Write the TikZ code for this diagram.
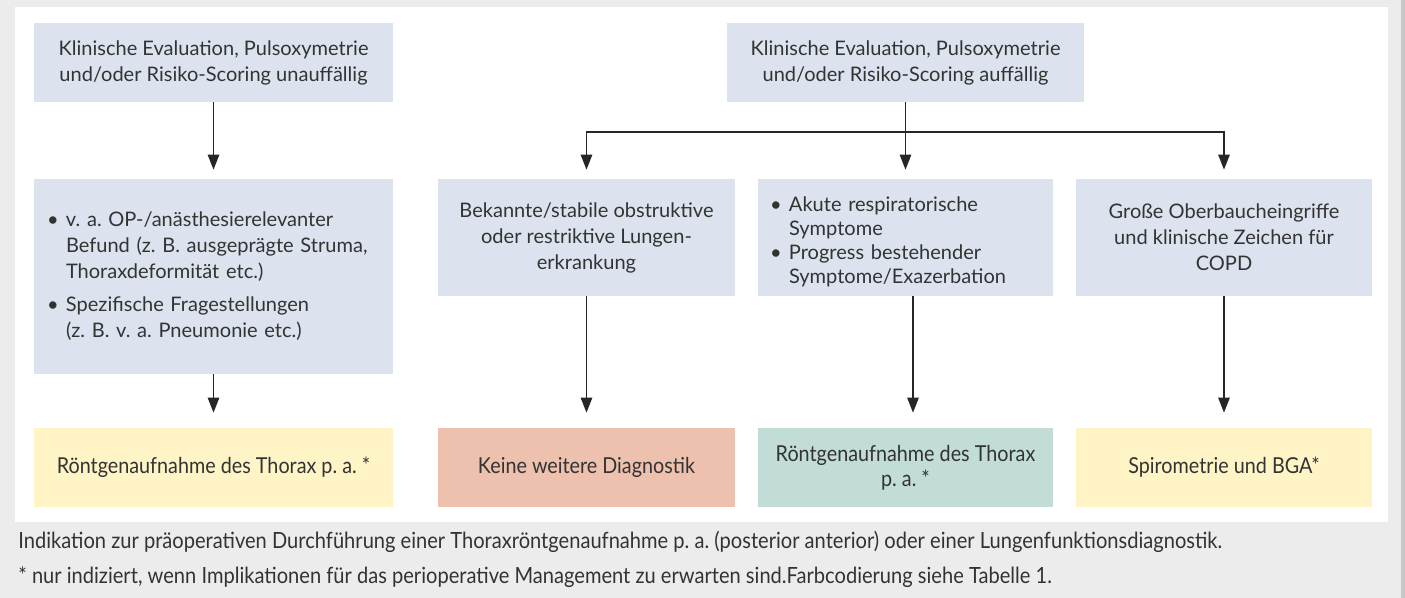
\documentclass[tikz,border=0pt]{standalone}
\usepackage{fontspec}
\setmainfont{Lato}
\newfontfamily\narrowfont[FakeStretch=0.9]{Lato}
\usetikzlibrary{arrows.meta}

\definecolor{boxblue}{HTML}{DCE3EE}
\definecolor{boxyellow}{HTML}{FEF4C6}
\definecolor{boxsalmon}{HTML}{EDC1AD}
\definecolor{boxteal}{HTML}{C2DCD7}
\definecolor{pagegrey}{HTML}{ECECEC}
\definecolor{edgegrey}{HTML}{C8C8C8}
\definecolor{inkgrey}{HTML}{333333}

\tikzset{
  stage/.style={fill=boxblue, text=inkgrey, inner sep=0pt, align=center,
    font=\fontsize{11.4}{14.8}\selectfont\frenchspacing},
  liststage/.style={stage, align=left, inner xsep=#1},
  result/.style={stage, minimum height=1.58cm,
    font=\narrowfont\fontsize{12.5}{14}\selectfont\frenchspacing},
  flowarrow/.style={-{Triangle[length=3mm,width=2.3mm]}, line width=0.7pt, draw=black!85},
  caption/.style={anchor=west, inner sep=0pt, text=inkgrey,
    font=\narrowfont\fontsize{12.7}{14.2}\selectfont\frenchspacing}
}

\newcommand{\bulletrow}[1]{\makebox[0.38cm][l]{\textbullet}&#1}

\begin{document}
\begin{tikzpicture}

% page and panel
\fill[pagegrey] (0,0) rectangle (28.1,-11.96);
\fill[edgegrey] (28.02,0) rectangle (28.1,-11.96);
\fill[white] (0.3,-0.14) rectangle (27.76,-10.44);
\useasboundingbox (0,0) rectangle (28.1,-11.96);

% top row
\node[stage, minimum width=7.18cm, minimum height=1.58cm] (unauff) at (4.27,-1.25)
  {Klinische Evaluation, Pulsoxymetrie\\und/oder Risiko-Scoring unauffällig};
\node[stage, minimum width=7.14cm, minimum height=1.58cm] (auff) at (18.11,-1.25)
  {Klinische Evaluation, Pulsoxymetrie\\und/oder Risiko-Scoring auffällig};

% middle row
\node[liststage=0.26cm, text width=6.66cm, minimum height=3.9cm] (befund) at (4.27,-5.53)
  {\begin{tabular}{@{}l@{}l@{}}
   \bulletrow{v. a. OP-/anästhesierelevanter}\\
   &Befund (z. B. ausgeprägte Struma,\\
   &Thoraxdeformität etc.)\\[4pt]
   \bulletrow{Spezifische Fragestellungen}\\
   &(z. B. v. a. Pneumonie etc.)
   \end{tabular}};
\node[stage, minimum width=5.94cm, minimum height=2.34cm] (bekannt) at (11.73,-4.75)
  {Bekannte/stabile obstruktive\\oder restriktive Lungen-\\erkrankung};
\node[liststage=0.24cm, text width=5.42cm, minimum height=2.34cm] (akut) at (18.11,-4.75)
  {\raisebox{-0.1cm}[\height][\depth]{\renewcommand{\arraystretch}{0.93}%
   \begin{tabular}{@{}l@{}l@{}}
   \bulletrow{Akute respiratorische}\\
   &Symptome\\
   \bulletrow{Progress bestehender}\\
   &Symptome/Exazerbation
   \end{tabular}}};
\node[stage, minimum width=5.92cm, minimum height=2.34cm] (oberbauch) at (24.48,-4.75)
  {Große Oberbaucheingriffe\\und klinische Zeichen für\\COPD};

% bottom row
\node[result, fill=boxyellow, minimum width=7.18cm] (rxlinks) at (4.27,-9.35)
  {Röntgenaufnahme des Thorax p. a. *};
\node[result, fill=boxsalmon, minimum width=5.94cm] (keine) at (11.73,-9.35)
  {Keine weitere Diagnostik};
\node[result, fill=boxteal, minimum width=5.9cm] (rxakut) at (18.11,-9.35)
  {Röntgenaufnahme des Thorax\\p. a. *};
\node[result, fill=boxyellow, minimum width=5.92cm] (spiro) at (24.48,-9.35)
  {Spirometrie und BGA*};

% arrows
\coordinate (split) at (18.11,-2.64);
\draw[flowarrow, shorten >=0.18cm] (unauff) -- (befund);
\draw[flowarrow, shorten >=0.18cm] (auff) -- (akut);
\draw[flowarrow, shorten >=0.18cm] (split) -| (bekannt);
\draw[flowarrow, shorten >=0.18cm] (split) -| (oberbauch);
\draw[flowarrow, shorten >=0.3cm] (befund) -- (rxlinks);
\draw[flowarrow, shorten >=0.3cm] (bekannt) -- (keine);
\draw[flowarrow, shorten >=0.3cm] ([xshift=0.15cm]akut.south) -- ([xshift=0.15cm]rxakut.north);
\draw[flowarrow, shorten >=0.3cm] (oberbauch) -- (spiro);

% caption
\node[caption] (legende) at (0.36,-10.84)
  {Indikation zur präoperativen Durchführung einer Thoraxröntgenaufnahme p. a. (posterior anterior) oder einer Lungenfunktionsdiagnostik.};
\node[caption] (fussnote) at (0.36,-11.54)
  {* nur indiziert, wenn Implikationen für das perioperative Management zu erwarten sind.Farbcodierung siehe Tabelle 1.};

\end{tikzpicture}
\end{document}
